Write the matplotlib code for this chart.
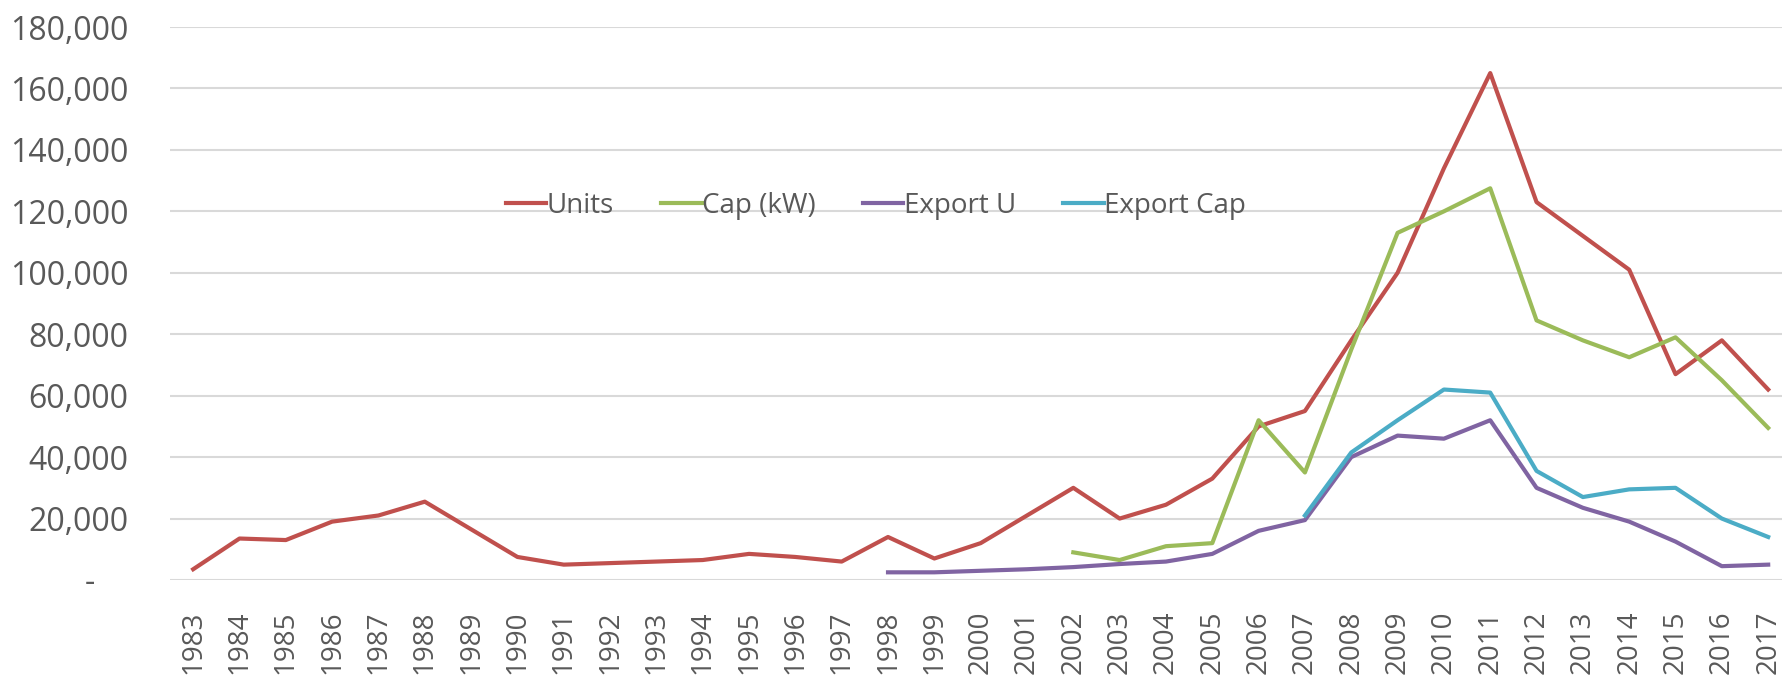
import matplotlib
matplotlib.use("Agg")
import matplotlib.pyplot as plt
import numpy as np

years = [str(y) for y in range(1983, 2018)]

units = [3500, 13500, 13000, 19000, 21000, 25500, 16500, 7500, 5000, 5500,
         6000, 6500, 8500, 7500, 6000, 14000, 7000, 12000, 21000, 30000,
         20000, 24500, 33000, 50000, 55000, 78000, 100000, 134000, 165000, 123000,
         112000, 101000, 67000, 78000, 62000]

cap_years = years[19:]
cap_kw = [9000, 6500, 11000, 12000, 52000, 35000, 75000, 113000, 120000, 127500,
          84500, 78000, 72500, 79000, 65000, 49500]

exu_years = years[15:]
export_u = [2500, 2500, 3000, 3500, 4200, 5200, 6000, 8500, 16000, 19500,
            40000, 47000, 46000, 52000, 30000, 23500, 19000, 12500, 4500, 5000]

excap_years = years[24:]
export_cap = [21000, 41500, 52000, 62000, 61000, 35500, 27000, 29500, 30000, 20000, 14000]

yticks = list(range(0, 180001, 20000))
ytick_labels = ["-    "] + [f"{v:,}" for v in yticks[1:]]

plt.rcParams['font.family'] = ['Open Sans', 'DejaVu Sans']

fig = plt.figure(figsize=(17.83, 6.76), dpi=100)
ax = fig.add_axes([170/1783, 96/676, 1 - 170/1783, (580-27)/676])

x = np.arange(len(years))
idx = {y: i for i, y in enumerate(years)}
lw = 3.0
ax.plot(x, units, color="#C0504D", lw=lw, label="Units")
ax.plot([idx[y] for y in cap_years], cap_kw, color="#9BBB59", lw=lw, label="Cap (kW)")
ax.plot([idx[y] for y in exu_years], export_u, color="#8064A2", lw=lw, label="Export U")
ax.plot([idx[y] for y in excap_years], export_cap, color="#4BACC6", lw=lw, label="Export Cap")

ax.set_ylim(0, 180000)
ax.set_xlim(-0.5, 34.32)
ax.set_yticks(yticks)
ax.set_yticklabels(ytick_labels)
ax.set_xticks(x)
ax.set_xticklabels(years, rotation=90, va='top')
ax.tick_params(axis='both', length=0, colors="#595959")
ax.tick_params(axis='y', labelsize=23, pad=30)
ax.tick_params(axis='x', labelsize=20, pad=22)
ax.grid(axis='y', color="#D9D9D9", lw=1.5)
ax.set_axisbelow(True)
for s in ax.spines.values():
    s.set_visible(False)

leg = ax.legend(loc='center', bbox_to_anchor=(876/1783, 1 - 206/676), bbox_transform=fig.transFigure,
                ncol=4, frameon=False, fontsize=20, handlelength=1.45, handletextpad=0.02,
                columnspacing=1.7, labelcolor="#595959")

fig.savefig("out.png", dpi=100)
